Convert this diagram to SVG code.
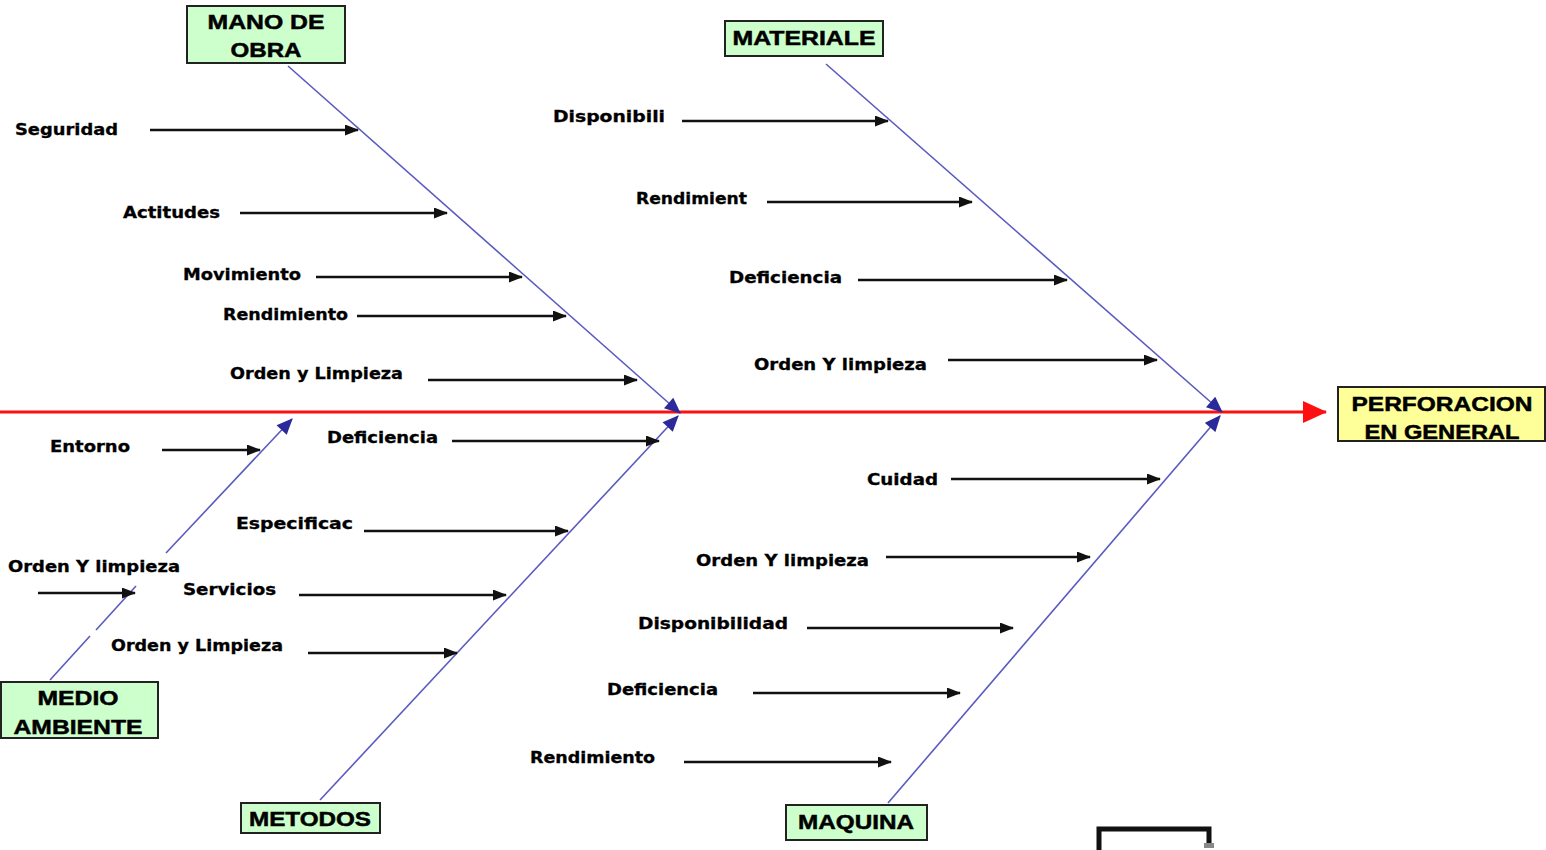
<svg xmlns="http://www.w3.org/2000/svg" width="1546" height="850" viewBox="0 0 1546 850">
<style>
.box{stroke:#222;stroke-width:2}
.g{fill:#ccffcc}
.y{fill:#ffff99}
.bt{font-family:"Liberation Sans",Arial,sans-serif;font-weight:bold;font-size:21px;fill:#000;text-anchor:middle;stroke:#000;stroke-width:0.5}
.lt{font-family:"DejaVu Sans","Liberation Sans",sans-serif;font-weight:bold;font-size:15px;fill:#000;stroke:#000;stroke-width:0.3}
.bone{stroke:#5a5ac0;stroke-width:1.6;fill:none;marker-end:url(#ba)}
.sub{stroke:#111;stroke-width:2.4;fill:none;marker-end:url(#ka)}
</style>
<defs>
<marker id="ka" viewBox="0 0 14 11" refX="13" refY="5.5" markerWidth="14" markerHeight="11" markerUnits="userSpaceOnUse" orient="auto"><path d="M0,0 L14,5.5 L0,11 Z" fill="#111"/></marker>
<marker id="ba" viewBox="0 0 14 12" refX="13" refY="6" markerWidth="17" markerHeight="14" markerUnits="userSpaceOnUse" orient="auto"><path d="M0,0 L14,6 L0,12 Z" fill="#2a2a9a"/></marker>
<marker id="ra" viewBox="0 0 24 22" refX="23" refY="11" markerWidth="26" markerHeight="22" markerUnits="userSpaceOnUse" orient="auto"><path d="M0,0 L24,11 L0,22 Z" fill="#ff1010"/></marker>
</defs>
<rect width="1546" height="850" fill="#fff"/>
<g id="connectors">
<line x1="0" y1="412" x2="1326" y2="412" stroke="#ff1010" stroke-width="3" marker-end="url(#ra)"/>
<line class="bone" x1="288" y1="66" x2="680" y2="413"/>
<line class="bone" x1="826" y1="64" x2="1222" y2="412"/>
<line class="bone" x1="320" y1="800" x2="678" y2="416"/>
<line class="bone" x1="888" y1="803" x2="1220" y2="416"/>
<g stroke="#5a5ac0" stroke-width="1.6" fill="none">
<line x1="50" y1="680" x2="90" y2="636"/>
<line x1="96" y1="630" x2="136" y2="586"/>
<line x1="166" y1="553" x2="292" y2="419" marker-end="url(#ba)"/>
</g>
<line class="sub" x1="150" y1="130" x2="358" y2="130"/>
<line class="sub" x1="240" y1="213" x2="447" y2="213"/>
<line class="sub" x1="316" y1="277" x2="522" y2="277"/>
<line class="sub" x1="357" y1="316" x2="566" y2="316"/>
<line class="sub" x1="428" y1="380" x2="637" y2="380"/>
<line class="sub" x1="682" y1="121" x2="888" y2="121"/>
<line class="sub" x1="767" y1="202" x2="972" y2="202"/>
<line class="sub" x1="858" y1="280" x2="1067" y2="280"/>
<line class="sub" x1="948" y1="360" x2="1157" y2="360"/>
<line class="sub" x1="452" y1="441" x2="659" y2="441"/>
<line class="sub" x1="364" y1="531" x2="568" y2="531"/>
<line class="sub" x1="299" y1="595" x2="506" y2="595"/>
<line class="sub" x1="308" y1="653" x2="457" y2="653"/>
<line class="sub" x1="162" y1="450" x2="260" y2="450"/>
<line class="sub" x1="38" y1="593" x2="135" y2="593"/>
<line class="sub" x1="951" y1="479" x2="1160" y2="479"/>
<line class="sub" x1="886" y1="557" x2="1090" y2="557"/>
<line class="sub" x1="807" y1="628" x2="1013" y2="628"/>
<line class="sub" x1="753" y1="693" x2="960" y2="693"/>
<line class="sub" x1="684" y1="762" x2="891" y2="762"/>
</g>
<g id="labels">
<text class="lt" x="15" y="135" textLength="103" lengthAdjust="spacingAndGlyphs">Seguridad</text>
<text class="lt" x="123" y="218" textLength="97" lengthAdjust="spacingAndGlyphs">Actitudes</text>
<text class="lt" x="183" y="280" textLength="118" lengthAdjust="spacingAndGlyphs">Movimiento</text>
<text class="lt" x="223" y="320" textLength="125" lengthAdjust="spacingAndGlyphs">Rendimiento</text>
<text class="lt" x="230" y="379" textLength="173" lengthAdjust="spacingAndGlyphs">Orden y Limpieza</text>
<text class="lt" x="553" y="122" textLength="112" lengthAdjust="spacingAndGlyphs">Disponibili</text>
<text class="lt" x="636" y="204" textLength="111" lengthAdjust="spacingAndGlyphs">Rendimient</text>
<text class="lt" x="729" y="283" textLength="113" lengthAdjust="spacingAndGlyphs">Deficiencia</text>
<text class="lt" x="754" y="370" textLength="173" lengthAdjust="spacingAndGlyphs">Orden Y limpieza</text>
<text class="lt" x="50" y="452" textLength="80" lengthAdjust="spacingAndGlyphs">Entorno</text>
<text class="lt" x="327" y="443" textLength="111" lengthAdjust="spacingAndGlyphs">Deficiencia</text>
<text class="lt" x="236" y="529" textLength="117" lengthAdjust="spacingAndGlyphs">Especificac</text>
<text class="lt" x="8" y="572" textLength="172" lengthAdjust="spacingAndGlyphs">Orden Y limpieza</text>
<text class="lt" x="183" y="595" textLength="93" lengthAdjust="spacingAndGlyphs">Servicios</text>
<text class="lt" x="111" y="651" textLength="172" lengthAdjust="spacingAndGlyphs">Orden y Limpieza</text>
<text class="lt" x="867" y="485" textLength="71" lengthAdjust="spacingAndGlyphs">Cuidad</text>
<text class="lt" x="696" y="566" textLength="173" lengthAdjust="spacingAndGlyphs">Orden Y limpieza</text>
<text class="lt" x="638" y="629" textLength="150" lengthAdjust="spacingAndGlyphs">Disponibilidad</text>
<text class="lt" x="607" y="695" textLength="111" lengthAdjust="spacingAndGlyphs">Deficiencia</text>
<text class="lt" x="530" y="763" textLength="125" lengthAdjust="spacingAndGlyphs">Rendimiento</text>
</g>
<g id="mano-de-obra">
<rect class="box g" x="187" y="6" width="158" height="57"/>
<text class="bt" x="266" y="29" textLength="117" lengthAdjust="spacingAndGlyphs">MANO DE</text>
<text class="bt" x="266" y="57" textLength="71" lengthAdjust="spacingAndGlyphs">OBRA</text>
</g>
<g id="materiale">
<rect class="box g" x="725" y="21" width="158" height="35"/>
<text class="bt" x="804" y="45" textLength="143" lengthAdjust="spacingAndGlyphs">MATERIALE</text>
</g>
<g id="perforacion">
<rect class="box y" x="1338" y="387" width="207" height="54"/>
<text class="bt" x="1442" y="411" textLength="181" lengthAdjust="spacingAndGlyphs">PERFORACION</text>
<text class="bt" x="1442" y="439" textLength="155" lengthAdjust="spacingAndGlyphs">EN GENERAL</text>
</g>
<g id="medio-ambiente">
<rect class="box g" x="1" y="682" width="157" height="56"/>
<text class="bt" x="78" y="705" textLength="81" lengthAdjust="spacingAndGlyphs">MEDIO</text>
<text class="bt" x="78" y="734" textLength="129" lengthAdjust="spacingAndGlyphs">AMBIENTE</text>
</g>
<g id="metodos">
<rect class="box g" x="241" y="803" width="139" height="30"/>
<text class="bt" x="310" y="826" textLength="122" lengthAdjust="spacingAndGlyphs">METODOS</text>
</g>
<g id="maquina">
<rect class="box g" x="786" y="805" width="141" height="35"/>
<text class="bt" x="856" y="829" textLength="116" lengthAdjust="spacingAndGlyphs">MAQUINA</text>
</g>
<path d="M1099,850 V829 H1209 V846" fill="none" stroke="#111" stroke-width="5"/>
<rect x="1204" y="843" width="10" height="5" fill="#888"/>
</svg>
